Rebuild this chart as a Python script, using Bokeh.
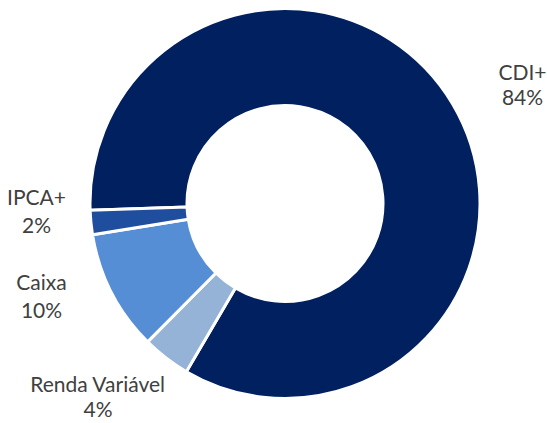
import numpy as np
from bokeh.plotting import figure
from bokeh.models import Range1d, ColumnDataSource
from bokeh.core.properties import value
from bokeh.embed import file_html
from bokeh.resources import INLINE

# ---- data ----
categories = ["CDI+", "Renda Variável", "Caixa", "IPCA+"]
shares = [84, 4, 10, 2]
colors = ["#002060", "#95B3D7", "#558ED5", "#1F4E9F"]

# ---- layout ----
W, H = 547, 423
first_angle_cw = 268.0          # clockwise from 12 o'clock
cx, cy = 284.5, H - 203.0
r_in, r_out = 98.0, 195.0
label_pos = {                      # (x, y of name line, y of value line) in px from top
    "CDI+": (522, 70.5, 96),
    "Renda Variável": (97.5, 383.3, 407.5),
    "Caixa": (41, 280.5, 308.5),
    "IPCA+": (36, 196, 224),
}

vals = np.array(shares, dtype=float)
fr = vals / vals.sum() * 360.0
cw_start = first_angle_cw + np.concatenate([[0], np.cumsum(fr)[:-1]])
cw_end = cw_start + fr
start = np.deg2rad(90 - cw_end)
end = np.deg2rad(90 - cw_start)

src = ColumnDataSource(dict(start=start, end=end, color=colors, cat=categories))

p = figure(width=W, height=H, output_backend="svg", toolbar_location=None,
           x_range=Range1d(0, W), y_range=Range1d(0, H), min_border=0)
p.axis.visible = False
p.grid.visible = False
p.outline_line_color = None
p.background_fill_color = "white"

p.annular_wedge(x=cx, y=cy, inner_radius=r_in, outer_radius=r_out,
                start_angle="start", end_angle="end", direction="anticlock",
                fill_color="color", line_color="white", line_width=3, source=src)

lx = [label_pos[c][0] for c in categories]
ly1 = [H - label_pos[c][1] for c in categories]
ly2 = [H - label_pos[c][2] for c in categories]
pct = [f"{s}%" for s in shares]
common = dict(text_font=value("Lato"), text_font_size="21px", text_color="#404040",
              text_align="center", text_baseline="middle")
p.text(x=lx, y=ly1, text=categories, **common)
p.text(x=lx, y=ly2, text=pct, **common)

open("out.html", "w").write(file_html(p, INLINE))
